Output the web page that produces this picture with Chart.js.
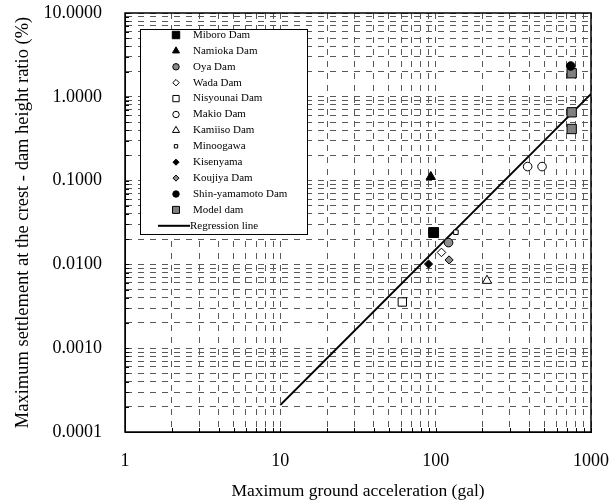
<!DOCTYPE html>
<html>
<head>
<meta charset="utf-8">
<script src="https://cdn.jsdelivr.net/npm/chart.js@4.4.0/dist/chart.umd.min.js"></script>
<style>
  html, body { margin: 0; padding: 0; background: #fff; }
  #wrap { width: 613px; height: 504px; }
</style>
</head>
<body>
<div id="wrap"><canvas id="chart"></canvas></div>
<script>
// Dados
const seriesNames = ['Miboro Dam', 'Namioka Dam', 'Oya Dam', 'Wada Dam', 'Nisyounai Dam', 'Makio Dam',
  'Kamiiso Dam', 'Minoogawa', 'Kisenyama', 'Koujiya Dam', 'Shin-yamamoto Dam', 'Model dam'];
const accelValues = [[97], [93], [121], [109], [61], [391, 484], [214], [135], [90], [122], [740], [751, 751, 751]];
const settlementValues = [[0.024], [0.111], [0.0182], [0.0139], [0.00356], [0.147, 0.147], [0.0064], [0.0242],
  [0.0101], [0.0113], [2.33], [1.91, 0.653, 0.413]];
const regressionX = [10, 1000];
const regressionY = [0.00021, 1.08];
const xTickValues = [1, 2, 3, 4, 5, 6, 7, 8, 9, 10, 20, 30, 40, 50, 60, 70, 80, 90, 100,
  200, 300, 400, 500, 600, 700, 800, 900, 1000];
const yTickValues = [0.0001, 0.0002, 0.0003, 0.0004, 0.0005, 0.0006, 0.0007, 0.0008, 0.0009,
  0.001, 0.002, 0.003, 0.004, 0.005, 0.006, 0.007, 0.008, 0.009,
  0.01, 0.02, 0.03, 0.04, 0.05, 0.06, 0.07, 0.08, 0.09,
  0.1, 0.2, 0.3, 0.4, 0.5, 0.6, 0.7, 0.8, 0.9,
  1, 2, 3, 4, 5, 6, 7, 8, 9, 10];
const xLabelValues = [1, 10, 100, 1000];
const yLabelValues = [0.0001, 0.001, 0.01, 0.1, 1, 10];

// Estilos dos marcadores
const markerStyles = ['rect', 'triangle', 'circle', 'rectRot', 'rect', 'circle', 'triangle', 'rect', 'rectRot', 'rectRot', 'circle', 'rect'];
const markerFills = ['#000', '#000', '#8c8c8c', '#fff', '#fff', '#fff', '#fff', '#fff', '#000', '#8c8c8c', '#000', '#808080'];
const markerSizes = [7, 5.4, 4.3, 4.3, 5.9, 4.3, 5.4, 3.2, 4.1, 4.1, 4.3, 6.6];

const serif = "'Liberation Serif', 'DejaVu Serif', serif";

const isDecade = (v, list) => list.some(d => Math.abs(v / d - 1) < 1e-6);

// Desenha um marcador simples (para a legenda)
function drawMarker(ctx, style, x, y, r, fill) {
  ctx.save();
  ctx.fillStyle = fill;
  ctx.strokeStyle = '#000';
  ctx.lineWidth = 1;
  ctx.beginPath();
  if (style === 'rect') {
    const s = r / Math.SQRT2;
    ctx.rect(x - s, y - s, 2 * s, 2 * s);
  } else if (style === 'rectRot') {
    ctx.moveTo(x, y - r); ctx.lineTo(x + r, y); ctx.lineTo(x, y + r); ctx.lineTo(x - r, y); ctx.closePath();
  } else if (style === 'circle') {
    ctx.arc(x, y, r, 0, Math.PI * 2);
  } else if (style === 'triangle') {
    ctx.moveTo(x, y - r); ctx.lineTo(x + r * 0.87, y + r * 0.5); ctx.lineTo(x - r * 0.87, y + r * 0.5); ctx.closePath();
  }
  ctx.fill();
  ctx.stroke();
  ctx.restore();
}

// Moldura, marcas internas e legenda
const framePlugin = {
  id: 'frame',
  afterDraw(chart) {
    const { ctx, chartArea: ca, scales } = chart;
    ctx.save();
    ctx.strokeStyle = '#000';
    ctx.lineWidth = 1;
    ctx.setLineDash([]);
    ctx.beginPath();
    xTickValues.forEach(v => {
      const px = Math.round(scales.x.getPixelForValue(v)) + 0.5;
      ctx.moveTo(px, ca.bottom); ctx.lineTo(px, ca.bottom - 4);
    });
    yTickValues.forEach(v => {
      const py = Math.round(scales.y.getPixelForValue(v)) + 0.5;
      ctx.moveTo(ca.left, py); ctx.lineTo(ca.left + 4, py);
    });
    ctx.stroke();
    ctx.lineWidth = 1.5;
    ctx.strokeRect(ca.left, ca.top, ca.right - ca.left, ca.bottom - ca.top);

    // Legenda
    const lx = ca.left + 15, ly = ca.top + 16, lw = 167, lh = 205;
    ctx.fillStyle = '#fff';
    ctx.fillRect(lx, ly, lw, lh);
    ctx.lineWidth = 1;
    ctx.strokeRect(lx + 0.5, ly + 0.5, lw, lh);
    ctx.font = "11px " + serif;
    ctx.textBaseline = 'middle';
    const rowH = 15.9;
    seriesNames.forEach((name, i) => {
      const y = ly + 6 + i * rowH;
      drawMarker(ctx, markerStyles[i], lx + 36, y, markerSizes[i] * 0.75, markerFills[i]);
      ctx.fillStyle = '#000';
      ctx.fillText(name, lx + 53, y);
    });
    const yr = ly + 6 + seriesNames.length * rowH;
    ctx.beginPath();
    ctx.lineWidth = 2;
    ctx.moveTo(lx + 18, yr); ctx.lineTo(lx + 50, yr);
    ctx.stroke();
    ctx.fillStyle = '#000';
    ctx.fillText('Regression line', lx + 50, yr);
    ctx.restore();
  }
};

const datasets = seriesNames.map((name, i) => ({
  type: 'scatter',
  label: name,
  data: accelValues[i].map((x, j) => ({ x: x, y: settlementValues[i][j] })),
  pointStyle: markerStyles[i],
  pointRadius: markerSizes[i],
  pointBackgroundColor: markerFills[i],
  pointBorderColor: '#000',
  pointBorderWidth: 1
}));

datasets.push({
  type: 'line',
  label: 'Regression line',
  data: regressionX.map((x, j) => ({ x: x, y: regressionY[j] })),
  borderColor: '#000',
  borderWidth: 1.8,
  pointRadius: 0,
  fill: false
});

new Chart(document.getElementById('chart'), {
  type: 'scatter',
  data: { datasets: datasets },
  plugins: [framePlugin],
  options: {
    responsive: true,
    maintainAspectRatio: false,
    animation: false,
    layout: { padding: { left: 12, top: 13, right: 22, bottom: 0 } },
    plugins: { legend: { display: false }, tooltip: { enabled: false } },
    scales: {
      x: {
        type: 'logarithmic',
        min: 1,
        max: 1000,
        afterBuildTicks: scale => { scale.ticks = xTickValues.map(v => ({ value: v })); },
        afterFit: scale => {
          scale.height = 72;
          scale.paddingLeft = 0; scale.paddingRight = 0;
        },
        ticks: {
          autoSkip: false,
          maxRotation: 0,
          padding: 18,
          color: '#000',
          font: { family: serif, size: 18 },
          callback: v => isDecade(v, xLabelValues) ? String(Math.round(v)) : ''
        },
        grid: { color: '#595959', lineWidth: 1, drawTicks: false },
        border: { display: true, color: '#000', dash: [6, 6] },
        title: {
          display: true,
          text: 'Maximum ground acceleration (gal)',
          color: '#000',
          font: { family: serif, size: 17.5 },
          padding: { top: 0, bottom: 2 }
        }
      },
      y: {
        type: 'logarithmic',
        min: 0.0001,
        max: 10,
        afterBuildTicks: scale => { scale.ticks = yTickValues.map(v => ({ value: v })); },
        afterFit: scale => {
          scale.width = 113;
          scale.paddingTop = 0; scale.paddingBottom = 0;
        },
        ticks: {
          autoSkip: false,
          padding: 23,
          color: '#000',
          font: { family: serif, size: 18 },
          callback: v => isDecade(v, yLabelValues) ? v.toFixed(4) : ''
        },
        grid: { color: '#595959', lineWidth: 1, drawTicks: false },
        border: { display: true, color: '#000', dash: [6, 6] },
        title: {
          display: true,
          text: 'Maximum settlement at the crest - dam height ratio (%)',
          color: '#000',
          font: { family: serif, size: 18.5 },
          padding: { top: 0, bottom: 0 }
        }
      }
    }
  }
});
</script>
</body>
</html>
